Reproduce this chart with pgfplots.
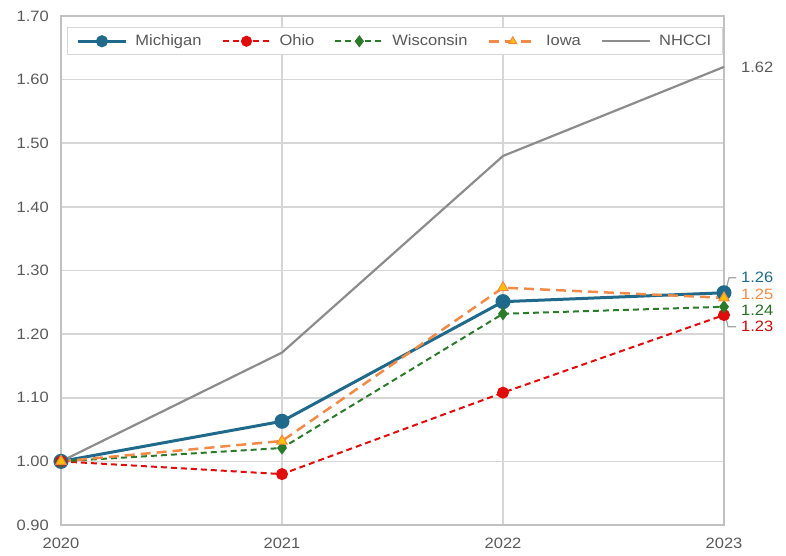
\documentclass[border=0pt]{standalone}
\usepackage{pgfplots}
\pgfplotsset{compat=1.18}
\usepackage{fontspec}
\setmainfont{Liberation Sans}[FakeStretch=1.1]
\definecolor{mich}{HTML}{1F6A8A}
\definecolor{ohio}{HTML}{E00B0B}
\definecolor{wisc}{HTML}{2A7A2A}
\definecolor{iowa}{HTML}{F08A46}
\definecolor{iowam}{HTML}{FFC000}
\definecolor{nhcci}{HTML}{8C8C8C}
\definecolor{txt}{HTML}{595959}
\definecolor{gridc}{HTML}{D6D6D6}
\begin{document}
\fontsize{15}{18}\selectfont
\begin{tikzpicture}
\begin{axis}[
  name=ax,
  scale only axis,
  width=663pt, height=509pt,
  xmin=2020, xmax=2023, ymin=0.9, ymax=1.7,
  xtick={2020,2021,2022,2023},
  ytick={0.9,1.0,1.1,1.2,1.3,1.4,1.5,1.6,1.7},
  xticklabels={2020,2021,2022,2023},
  yticklabel style={/pgf/number format/fixed,/pgf/number format/precision=2,/pgf/number format/fixed zerofill, xshift=-7pt},
  xticklabel style={yshift=-8pt},
  /pgf/number format/assume math mode=true,
  ticklabel style={text=txt, font=\fontsize{15}{18}\selectfont},
  major tick length=0pt,
  grid=major,
  major grid style={draw=gridc, line width=1.6pt},
  axis line style={draw=gridc!90!black, line width=2pt},
  clip=false,
  legend columns=5,
  legend style={at={(rel axis cs:0.009,0.978)}, anchor=north west, draw=gridc, line width=1pt, fill=white,
    font=\fontsize{15}{18}\selectfont, text=txt, inner xsep=9pt, inner ysep=5pt,
    /tikz/every odd column/.append style={column sep=6pt},
    /tikz/every even column/.append style={column sep=18pt}},
  legend cell align=left,
  legend image code/.code={\draw[mark size=4.5pt, mark repeat=2,mark phase=2] plot coordinates {(0pt,0pt) (24pt,0pt) (48pt,0pt)};},
]
\addplot[mich, line width=3pt, mark=*, mark size=6pt, mark options={solid, fill=mich}]
 coordinates {(2020,1.000) (2021,1.063) (2022,1.251) (2023,1.265)};
\addlegendentry{Michigan}
\addplot[ohio, line width=2pt, dash pattern=on 6pt off 4pt, mark=*, mark size=5pt, mark options={solid, fill=ohio}]
 coordinates {(2020,1.000) (2021,0.980) (2022,1.108) (2023,1.230)};
\addlegendentry{Ohio}
\addplot[wisc, line width=2pt, dash pattern=on 6pt off 4pt, mark=diamond*, mark size=5pt, mark options={solid, fill=wisc}]
 coordinates {(2020,1.000) (2021,1.021) (2022,1.232) (2023,1.243)};
\addlegendentry{Wisconsin}
\addplot[iowa, line width=2.5pt, dash pattern=on 10pt off 6pt, mark=triangle*, mark size=6pt, mark options={solid, fill=iowam, draw=iowa, line width=1pt}]
 coordinates {(2020,1.000) (2021,1.032) (2022,1.273) (2023,1.257)};
\addlegendentry{Iowa}
\addplot[nhcci, line width=2.2pt]
 coordinates {(2020,1.000) (2021,1.171) (2022,1.480) (2023,1.620)};
\addlegendentry{NHCCI}

\node[anchor=west, inner sep=0pt, text=txt] at ([xshift=17pt]axis cs:2023,1.620) {1.62};
\node[anchor=west, inner sep=0pt, text=mich] at ([xshift=17pt]axis cs:2023,1.2885) {1.26};
\node[anchor=west, inner sep=0pt, text=iowa] at ([xshift=17pt]axis cs:2023,1.263) {1.25};
\node[anchor=west, inner sep=0pt, text=wisc!90!black] at ([xshift=17pt]axis cs:2023,1.238) {1.24};
\node[anchor=west, inner sep=0pt, text=ohio!90!black] at ([xshift=17pt]axis cs:2023,1.2125) {1.23};
\draw[nhcci!80, line width=1.2pt] ([xshift=2pt]axis cs:2023,1.27) -- ([xshift=5pt]axis cs:2023,1.2885) -- ([xshift=12pt]axis cs:2023,1.2885);
\draw[nhcci!80, line width=1.2pt] ([xshift=2pt]axis cs:2023,1.225) -- ([xshift=4pt]axis cs:2023,1.2115) -- ([xshift=12pt]axis cs:2023,1.2115);
\end{axis}
\pgfresetboundingbox
\path[use as bounding box] ([xshift=-61pt,yshift=-31pt]ax.south west) rectangle ([xshift=62pt,yshift=16pt]ax.north east);
\end{tikzpicture}
\end{document}
